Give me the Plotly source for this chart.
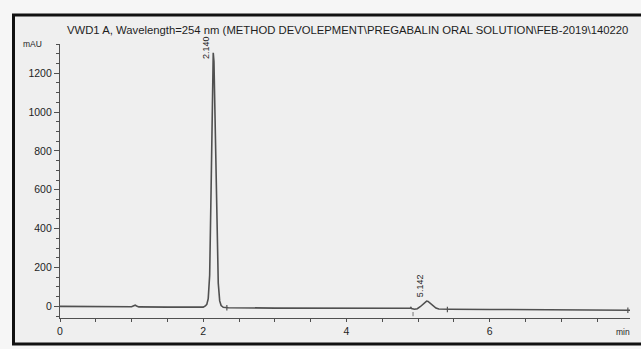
import plotly.graph_objects as go

# Chromatogram trace (time in min, signal in mAU)
time_min = [0.00, 0.50, 0.95, 1.00, 1.03, 1.05, 1.07, 1.10, 1.50, 1.95, 2.00, 2.03, 2.05, 2.07,
            2.09, 2.11, 2.13, 2.14, 2.15, 2.17, 2.19, 2.21, 2.23, 2.25, 2.28, 2.35, 3.00, 4.00,
            4.85, 4.89, 4.90, 4.91, 4.95, 4.99, 5.03, 5.07, 5.10, 5.12, 5.14, 5.17, 5.21, 5.25,
            5.29, 5.35, 5.45, 6.00, 7.00, 7.50, 7.85, 7.90, 7.96]
signal_mau = [0, -2, -3, -2, 3, 6, 2, -3, -4, -5, -4, 2, 10, 40,
              160, 600, 1140, 1305, 1260, 900, 400, 120, 28, 4, -5, -7, -9, -11,
              -13, -10, -6, -11, -15, -12, -2, 12, 23, 27, 25, 16, 2, -9,
              -14, -15, -15, -16, -17, -17, -19, -20, -20]

# Peak labels
peak_rt = ["2.140", "5.142"]
peak_label_x = [2.04, 5.03]
peak_label_y = [1330, 105]

# Integration tick marks
mark_x = [2.33, 5.41, 7.93]
mark_y = [-7, -16, -20]
dot_x = [4.93]
dot_y = [-40]

title_text = "VWD1 A, Wavelength=254 nm (METHOD DEVOLEPMENT\\PREGABALIN ORAL SOLUTION\\FEB-2019\\140220"

FONT = "Liberation Sans, Arial, sans-serif"
TXT = "#1e1e1e"
AX = "#505050"

fig = go.Figure()
fig.add_trace(go.Scatter(x=time_min, y=signal_mau, mode="lines",
                         line=dict(color="#505050", width=1.6), hoverinfo="skip",
                         showlegend=False))
fig.add_trace(go.Scatter(x=mark_x, y=mark_y, mode="markers",
                         marker=dict(symbol="line-ns", size=4, line=dict(color="#555", width=1.2)),
                         showlegend=False, hoverinfo="skip"))
fig.add_trace(go.Scatter(x=dot_x, y=dot_y, mode="markers",
                         marker=dict(symbol="line-ns", size=3, line=dict(color="#777", width=1)),
                         showlegend=False, hoverinfo="skip"))

for lbl, lx, ly in zip(peak_rt, peak_label_x, peak_label_y):
    fig.add_annotation(x=lx, y=ly, text=lbl, textangle=-90, showarrow=False,
                       xanchor="center", yanchor="middle",
                       font=dict(family=FONT, size=9, color=TXT))

L, R, T, B = 60, 11, 44, 31
W, H = 641, 349
pw, ph = W - L - R, H - T - B

def px(xp):
    return (xp - L) / pw

def py(yp):
    return (H - B - yp) / ph

fig.add_annotation(xref="paper", yref="paper", x=px(65), y=py(30), text=title_text,
                   showarrow=False, xanchor="left", yanchor="middle",
                   font=dict(family=FONT, size=11.3, color=TXT))
fig.add_annotation(xref="paper", yref="paper", x=px(32.5), y=py(44), text="mAU",
                   showarrow=False, xanchor="center", yanchor="middle",
                   font=dict(family=FONT, size=8.5, color=TXT))
fig.add_annotation(xref="paper", yref="paper", x=px(623), y=py(332), text="min",
                   showarrow=False, xanchor="center", yanchor="middle",
                   font=dict(family=FONT, size=8.5, color=TXT))

# outer frame
fig.add_shape(type="rect", xref="paper", yref="paper",
              x0=px(13.5), x1=px(660), y0=py(15), y1=py(344),
              line=dict(color="#111111", width=3), fillcolor="#efefef", layer="below")

fig.update_layout(
    width=W, height=H,
    margin=dict(l=L, r=R, t=T, b=B),
    paper_bgcolor="#f6f6f6", plot_bgcolor="rgba(0,0,0,0)",
    font=dict(family=FONT, color=TXT),
    xaxis=dict(range=[0, 7.96], showgrid=False, zeroline=False,
               showline=True, linecolor=AX, linewidth=1.3,
               tickmode="array", tickvals=[0, 2, 4, 6], ticktext=["0", "2", "4", "6"],
               ticks="outside", ticklen=3, tickcolor=AX, tickwidth=1,
               tickfont=dict(size=10.5, color=TXT),
               minor=dict(dtick=0.5, ticks="outside", ticklen=3, tickcolor=AX, tickwidth=1)),
    yaxis=dict(range=[-60, 1350], showgrid=False, zeroline=False,
               showline=True, linecolor=AX, linewidth=1.3,
               tickmode="array", tickvals=[0, 200, 400, 600, 800, 1000, 1200],
               ticks="outside", ticklen=5, tickcolor=AX, tickwidth=1,
               tickfont=dict(size=10.5, color=TXT),
               minor=dict(dtick=50, tick0=0, ticks="outside", ticklen=3, tickcolor=AX, tickwidth=1)),
)

fig.write_html("out.html")
